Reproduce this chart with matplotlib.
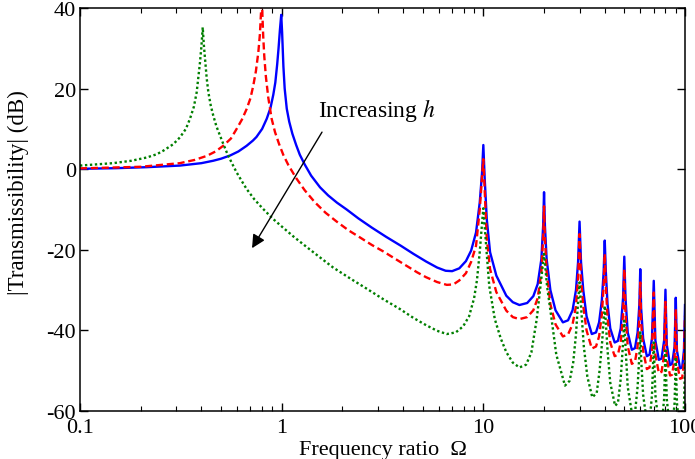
import matplotlib
matplotlib.use("Agg")
import matplotlib.pyplot as plt
from matplotlib.ticker import FixedLocator, LogLocator, NullFormatter

plt.rcParams['font.family'] = ['Liberation Serif', 'DejaVu Serif']
plt.rcParams['mathtext.fontset'] = 'stix'
plt.rcParams['axes.unicode_minus'] = False

# ---- data: (frequency ratio, |T| in dB) ----
blue_points = [
    (0.1, 0.1), (0.15, 0.25), (0.214, 0.5), (0.313, 0.9), (0.4, 1.5), (0.458, 2.1),
    (0.5, 2.6), (0.555, 3.4), (0.61, 4.4), (0.67, 5.8), (0.72, 7.1), (0.75, 8.0),
    (0.8, 10.0), (0.843, 12.5), (0.88, 15.2), (0.909, 18.5), (0.93, 21.5), (0.95, 26),
    (0.965, 30), (0.98, 34.5), (0.995, 38.3), (1.005, 34), (1.012, 30), (1.02, 25.5),
    (1.035, 20), (1.06, 15), (1.09, 11.8), (1.13, 8.8), (1.18, 6), (1.23, 3.6),
    (1.3, 1.2), (1.4, -1.6), (1.55, -4.5), (1.7, -6.5), (1.88, -8.3), (2.1, -10.0),
    (2.4, -12.2), (2.8, -14.5), (3.3, -16.8), (3.9, -19.0), (4.5, -21.0), (5.2, -22.9),
    (5.9, -24.4), (6.5, -25.2), (7.0, -25.3), (7.6, -24.6), (8.2, -22.8), (8.7, -20.2),
    (9.2, -15.7), (9.6, -8.2), (9.85, -1), (10, 6), (10.15, -2), (10.4, -12.4),
    (10.8, -20.6), (11.6, -26.4), (13.0, -31.4), (14.0, -33), (15.1, -33.7), (16.5, -33.2),
    (17.7, -31.5), (18.6, -28.5), (19.4, -22.3), (19.8, -14), (20, -5.7), (20.2, -14),
    (20.6, -22.3), (21.5, -30), (22.8, -35), (24.8, -38), (26.3, -37.5), (27.7, -35),
    (28.8, -30), (29.5, -23), (30, -13), (30.5, -23), (31.3, -30), (32.5, -36.5),
    (34.5, -40.9), (36.2, -40.5), (37.5, -38), (38.7, -32.5), (39.5, -25.5), (40, -17.7),
    (40.5, -25.5), (41.3, -33.5), (42.6, -39.5), (44.8, -43), (46.5, -42.6), (48, -39.5),
    (49.3, -32), (50, -21.7), (50.7, -32), (52, -40.5), (54.5, -44.8), (56.5, -44.4),
    (58.2, -40.5), (59.4, -33.5), (60, -24.8), (60.6, -34.5), (62, -42), (64.7, -46.4),
    (66.7, -46), (68.6, -42), (70, -27.7), (71.3, -42.5), (74.2, -47.3), (76.5, -47),
    (78.8, -42.5), (80, -29.9), (81.2, -43.5), (84.3, -48.6), (86.3, -48.3), (88.8, -44),
    (90, -31.9), (91.2, -45), (94.5, -49.4), (96.8, -49.2), (98.8, -45), (100, -33.7),
]

red_points = [
    (0.1, 0.2), (0.2, 0.6), (0.313, 1.5), (0.37, 2.3), (0.425, 3.3), (0.47, 4.4),
    (0.513, 5.8), (0.56, 7.6), (0.598, 10), (0.635, 12.3), (0.67, 14.9), (0.7, 17.6),
    (0.723, 20.7), (0.745, 24.3), (0.766, 29), (0.78, 33.5), (0.79, 38.9), (0.797, 43),
    (0.803, 38), (0.81, 33), (0.82, 28), (0.835, 23), (0.858, 17.8), (0.892, 12.5),
    (0.927, 9.2), (0.97, 6.3), (1.02, 3.5), (1.08, 1.0), (1.18, -2.2), (1.3, -5.2),
    (1.46, -8.2), (1.65, -10.8), (1.874, -13.0), (2.15, -15.2), (2.44, -16.9), (2.8, -18.8),
    (3.19, -20.4), (3.7, -22.4), (4.17, -24.0), (4.7, -25.6), (5.2, -26.8), (5.9, -28.0),
    (6.59, -28.7), (7.1, -28.6), (7.6, -27.6), (8.2, -25.8), (8.7, -23), (9.2, -19),
    (9.6, -10), (9.85, -2), (10, 2.5), (10.15, -5), (10.4, -17.3), (10.8, -24.8),
    (11.6, -30.5), (13, -35.1), (14, -36.7), (15.1, -37.2), (16.5, -36.7), (17.7, -35),
    (18.6, -32), (19.4, -25.5), (19.8, -17), (20, -9.2), (20.2, -17), (20.6, -25.5),
    (21.5, -33.5), (22.8, -38.5), (24.8, -41.5), (26.3, -41), (27.7, -38.5), (28.8, -34),
    (29.5, -27), (30, -16.1), (30.5, -27), (31.3, -34), (32.5, -40), (34.5, -44.5),
    (36.2, -44), (37.5, -41.5), (38.7, -36), (39.5, -29), (40, -21), (40.5, -29),
    (41.3, -37), (42.6, -43), (44.8, -46.4), (46.5, -46), (48, -43), (49.3, -36),
    (50, -24.8), (50.7, -36), (52, -44), (54.5, -48.3), (56.5, -47.8), (58.2, -44),
    (59.4, -37), (60, -28.1), (60.6, -38), (62, -45), (64.7, -49.6), (66.7, -49.2),
    (68.6, -45), (70, -30.6), (71.3, -46), (74.2, -50.6), (76.5, -50.3), (78.8, -46),
    (80, -32.9), (81.2, -47), (84.3, -51.2), (86.3, -51), (88.8, -47), (90, -34.7),
    (91.2, -48), (94.5, -52), (96.8, -51.8), (98.8, -48), (100, -36.4),
]

green_points = [
    (0.1, 0.9), (0.146, 1.5), (0.18, 2.1), (0.214, 2.9), (0.24, 3.7), (0.259, 4.6),
    (0.29, 6.2), (0.313, 7.9), (0.335, 10), (0.351, 12.5), (0.367, 15.5), (0.379, 19.1),
    (0.3935, 26.5), (0.4, 30.5), (0.406, 35.2), (0.411, 31), (0.417, 27.3), (0.425, 22.5),
    (0.433, 19.1), (0.445, 15.8), (0.458, 13.3), (0.475, 10.6), (0.495, 8.3), (0.515, 6.1),
    (0.534, 4.2), (0.565, 1.6), (0.598, -0.8), (0.635, -3.0), (0.67, -4.9), (0.73, -7.4),
    (0.8, -9.6), (0.9, -12.2), (1.0, -14.2), (1.15, -16.8), (1.33, -19.3), (1.55, -21.9),
    (1.8, -24.4), (2.2, -27.2), (2.65, -29.7), (3.2, -32.3), (3.86, -34.7), (4.5, -36.9),
    (5.2, -38.7), (5.9, -40.1), (6.59, -40.9), (7.3, -40.5), (7.94, -39), (8.5, -36.5),
    (9.0, -32), (9.3, -27.5), (9.6, -20.5), (9.85, -13.5), (10, -9.7), (10.15, -14),
    (10.4, -21), (10.7, -29), (11.4, -37.2), (12.2, -42), (13.0, -45.4), (14, -48),
    (15.1, -49.2), (16.3, -48.5), (17.3, -45.5), (18.4, -37.2), (19.3, -28), (20, -21),
    (20.7, -29), (21.8, -37.2), (23, -46), (25.4, -53.7), (26.8, -52.5), (27.9, -48),
    (28.8, -41), (29.4, -34), (30, -28.1), (30.6, -35), (31.5, -44), (32.8, -51.5),
    (34.7, -56.6), (36.5, -55.5), (37.7, -50), (38.8, -43), (39.5, -37.5), (40, -33.9),
    (40.5, -38), (41.3, -45), (42.6, -53), (45, -58.7), (46.5, -58), (48, -52),
    (49.3, -43), (50, -37.6), (50.7, -44), (52, -54), (54.7, -61), (56.5, -60.5),
    (58.2, -54), (59.4, -46), (60, -40.5), (60.6, -47), (62, -56), (64.8, -63),
    (66.8, -62.5), (68.6, -56), (70, -43), (71.3, -56), (74.3, -64), (76.6, -63.5),
    (78.8, -57), (80, -45), (81.2, -57), (84.4, -65), (86.4, -64.5), (88.8, -58),
    (90, -46.6), (91.2, -58), (94.6, -66), (96.8, -65.5), (98.8, -59), (100, -48),
]

x_ticks = [0.1, 1, 10, 100]
x_ticklabels = ['0.1', '1', '10', '100']
y_ticks = [-60, -40, -20, 0, 20, 40]
y_ticklabels = ['-60', '-40', '-20', '0', '20', '40']

blue_omega, blue_db = zip(*blue_points)
red_omega, red_db = zip(*red_points)
green_omega, green_db = zip(*green_points)

# ---- figure ----
fig = plt.figure(figsize=(6.95, 4.60), dpi=100)
ax = fig.add_axes([80/695, 1-412/460, 605/695, 403/460])

ax.plot(blue_omega, blue_db, color='#0000FF', lw=1.7, ls='-')
ax.plot(red_omega, red_db, color='#FF0000', lw=1.7, ls=(0, (3, 1.6)))
ax.plot(green_omega, green_db, color='#007F00', lw=1.7, ls=(0, (1, 1.1)))

ax.set_xscale('log')
ax.set_xlim(0.1, 100)
ax.set_ylim(-60, 40)
ax.xaxis.set_major_locator(FixedLocator(x_ticks))
ax.set_xticklabels(x_ticklabels)
ax.xaxis.set_minor_locator(LogLocator(base=10, subs=range(2, 10)))
ax.xaxis.set_minor_formatter(NullFormatter())
ax.set_yticks(y_ticks)
ax.set_yticklabels(y_ticklabels)

ax.tick_params(which='both', direction='in', top=True, right=True, labelsize=16)
ax.tick_params(which='major', length=6, width=1)
ax.tick_params(which='minor', length=3.5, width=0.8)
ax.tick_params(axis='x', pad=5)
ax.tick_params(axis='y', pad=3)
for s in ax.spines.values():
    s.set_linewidth(1.1)

ax.set_xlabel('Frequency ratio  \u03A9', fontsize=16, labelpad=2)
ax.set_ylabel('|Transmissibility| (dB)', fontsize=16.5)
ax.yaxis.set_label_coords(-0.085, 0.545)

ax.annotate('', xy=(0.713, -19.6), xytext=(1.585, 9.2),
            arrowprops=dict(arrowstyle='-|>', color='black', lw=1.0,
                            mutation_scale=20, shrinkA=0, shrinkB=0))
ax.text(1.51, 14.7, 'Increasing $h$', fontsize=17, ha='left', va='center')

fig.savefig('out.png', dpi=100)
